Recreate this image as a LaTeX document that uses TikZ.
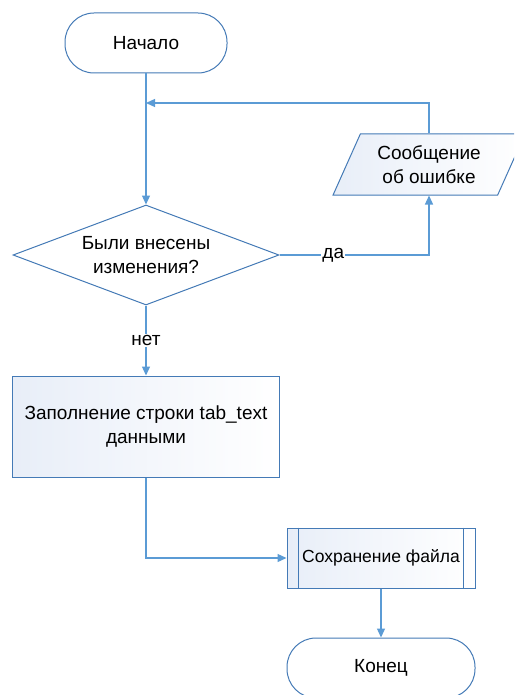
\documentclass[tikz,border=0pt]{standalone}
\usepackage{fontspec}
\setmainfont{Liberation Sans}
\usetikzlibrary{shapes.geometric,arrows.meta,positioning}

\definecolor{flowline}{RGB}{91,155,213}
\definecolor{flowedge}{RGB}{68,122,182}
\definecolor{flowfill}{RGB}{232,238,248}

\begin{document}
\begin{tikzpicture}[
    x=1pt, y=-1pt,
    font=\fontsize{19}{24}\selectfont,
    terminal/.style={rectangle, draw=flowedge, line width=1pt, fill=white, rounded corners=29pt, minimum height=60pt, text centered},
    decision/.style={diamond, aspect=2.66, draw=flowedge, line width=1pt, fill=white, minimum width=266pt, minimum height=100pt, inner sep=0pt, align=center},
    io/.style={trapezium, trapezium left angle=64, trapezium right angle=116, trapezium stretches=true, draw=flowedge, line width=1pt, left color=flowfill, right color=white, minimum width=192pt, minimum height=61pt, align=center},
    process/.style={rectangle, draw=flowedge, line width=1pt, left color=flowfill, right color=white, minimum width=267pt, minimum height=101pt, align=center},
    subproc/.style={rectangle, draw=flowedge, line width=1pt, left color=flowfill, right color=white, minimum width=188pt, minimum height=60pt, align=center, font=\fontsize{17.5}{24}\selectfont},
    line/.style={draw=flowline, line width=1.3pt, -{Triangle[length=9pt,width=8pt]}},
    answer/.style={fill=white, inner sep=1pt}
]
    \useasboundingbox (0,0) rectangle (514,695);
    \clip (0,0) rectangle (514,695);

    % Start
    \node [terminal, minimum width=162pt] (start) at (146,43) {Начало};

    % Check
    \node [decision] (changed) at (146,255) {Были внесены\\изменения?};

    % Error message
    \node [io] (errmsg) at (429,164.5) {Сообщение\\об ошибке};
    \coordinate (join) at (146,103);

    % Fill and save
    \node [process] (fillrow) at (146,426.5) {Заполнение строки tab\_text\\данными};
    \node [subproc] (savefile) at (381,558) {Сохранение файла};
    \draw [flowedge, line width=1pt] ([xshift=12pt]savefile.north west) -- ([xshift=12pt]savefile.south west);
    \draw [flowedge, line width=1pt] ([xshift=-12pt]savefile.north east) -- ([xshift=-12pt]savefile.south east);

    % End
    \node [terminal, minimum width=188pt] (stop) at (381,668) {Конец};

    % Connectors
    \path [line] (start) -- (changed);
    \path [line] (changed.east) -| node[answer, pos=0.18] {да} (errmsg.south);
    \path [line] (errmsg.north) |- (join);
    \path [line] (changed.south) -- node[answer] {нет} (fillrow.north);
    \path [line] (fillrow.south) |- (savefile.west);
    \path [line] (savefile) -- (stop);

\end{tikzpicture}
\end{document}
